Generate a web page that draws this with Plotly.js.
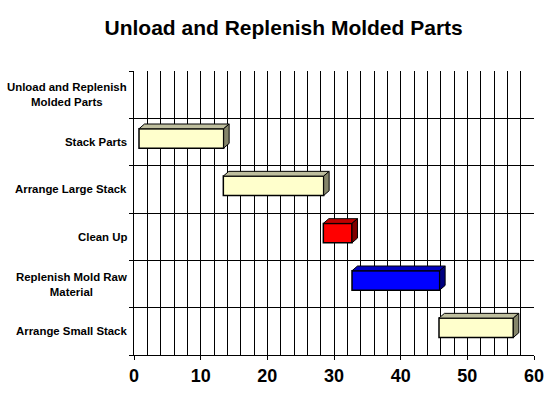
<!DOCTYPE html>
<html>
<head>
<meta charset="utf-8">
<script src="https://cdn.plot.ly/plotly-3.0.1.min.js"></script>
<style>html,body{margin:0;padding:0;background:#fff}#chart{width:554px;height:396px}</style>
</head>
<body>
<div id="chart"></div>
<script>
// ---- data ----
var tasks = ["Unload and Replenish<br>Molded Parts", "Stack Parts", "Arrange Large Stack", "Clean Up", "Replenish Mold Raw<br>Material", "Arrange Small Stack"];
var starts = [null, 0.75, 13.4, 28.4, 32.7, 45.75];
var durations = [null, 12.7, 15.05, 4.3, 13.15, 11.15];
var frontColors = ["#FFFFCC", "#FFFFCC", "#FFFFCC", "#FF0000", "#0000FF", "#FFFFCC"];
var topColors = {"#FFFFCC": "#BEBE9E", "#FF0000": "#C00000", "#0000FF": "#0000C0"};
var sideColors = {"#FFFFCC": "#85856A", "#FF0000": "#800000", "#0000FF": "#000080"};
var xTicks = [0, 10, 20, 30, 40, 50, 60];

// ---- geometry (in axis units) ----
var barW = 0.41, barOff = -0.28, dx = 0.82, dy = 0.1;
var pos = tasks.map(function (_, i) { return i; });

var traces = [];
traces.push({
  type: "bar", orientation: "h", y: pos, x: durations, base: starts,
  width: barW, offset: barOff,
  marker: {color: frontColors, line: {color: "#000", width: 1.5}},
  hoverinfo: "skip", showlegend: false
});

Object.keys(topColors).forEach(function (fc) {
  var tx = [], ty = [], sx = [], sy = [];
  for (var i = 0; i < tasks.length; i++) {
    if (starts[i] === null || frontColors[i] !== fc) continue;
    var s = starts[i], e = starts[i] + durations[i];
    var yT = pos[i] + barOff, yB = pos[i] + barOff + barW;
    tx.push(s, s + dx, e + dx, e, s, null);
    ty.push(yT, yT - dy, yT - dy, yT, yT, null);
    sx.push(e, e + dx, e + dx, e, e, null);
    sy.push(yT, yT - dy, yB - dy, yB, yT, null);
  }
  traces.push({type: "scatter", mode: "lines", x: tx, y: ty, fill: "toself",
    fillcolor: topColors[fc], line: {color: "#000", width: 1}, hoverinfo: "skip", showlegend: false});
  traces.push({type: "scatter", mode: "lines", x: sx, y: sy, fill: "toself",
    fillcolor: sideColors[fc], line: {color: "#000", width: 1}, hoverinfo: "skip", showlegend: false});
});

var boundaries = [];
for (var b = -0.5; b <= tasks.length - 0.5; b += 1) boundaries.push(b);

var labelFont = {family: "Arial, Liberation Sans, sans-serif", size: 11.4, color: "#000"};
var annotations = tasks.map(function (t, i) {
  return {xref: "paper", x: 0, xshift: -5, xanchor: "right", yref: "y", y: pos[i], yanchor: "middle",
    text: "<b>" + t + "</b>", showarrow: false, align: "center", font: labelFont};
});

var layout = {
  width: 554, height: 396,
  margin: {l: 134, r: 20, t: 71, b: 41},
  paper_bgcolor: "#fff", plot_bgcolor: "#fff",
  showlegend: false,
  annotations: annotations,
  title: {text: "<b>Unload and Replenish Molded Parts</b>",
    font: {family: "Arial, Liberation Sans, sans-serif", size: 21, color: "#000"},
    xref: "container", x: 0.512, xanchor: "center", yref: "container", y: 0.93, yanchor: "middle"},
  xaxis: {
    range: [0, 60], tickvals: xTicks, ticktext: xTicks.map(String),
    ticks: "outside", ticklen: 4, tickcolor: "#000", tickwidth: 1,
    showgrid: true, gridcolor: "#000", gridwidth: 1,
    minor: {dtick: 2, showgrid: true, gridcolor: "#000", gridwidth: 1, ticks: ""},
    showline: true, linecolor: "#000", linewidth: 1,
    zeroline: false,
    tickfont: {family: "Arial, Liberation Sans, sans-serif", size: 18, color: "#000", weight: "bold"}
  },
  yaxis: {
    range: [tasks.length - 0.5, -0.5],
    tickvals: pos, showticklabels: false,
    ticks: "", showgrid: false, zeroline: false,
    minor: {tickvals: boundaries, ticks: "outside", ticklen: 4, tickcolor: "#000", tickwidth: 1,
      showgrid: true, gridcolor: "#000", gridwidth: 1},
    showline: true, linecolor: "#000", linewidth: 1
  }
};

Plotly.newPlot("chart", traces, layout, {displayModeBar: false, staticPlot: true});
</script>
</body>
</html>
